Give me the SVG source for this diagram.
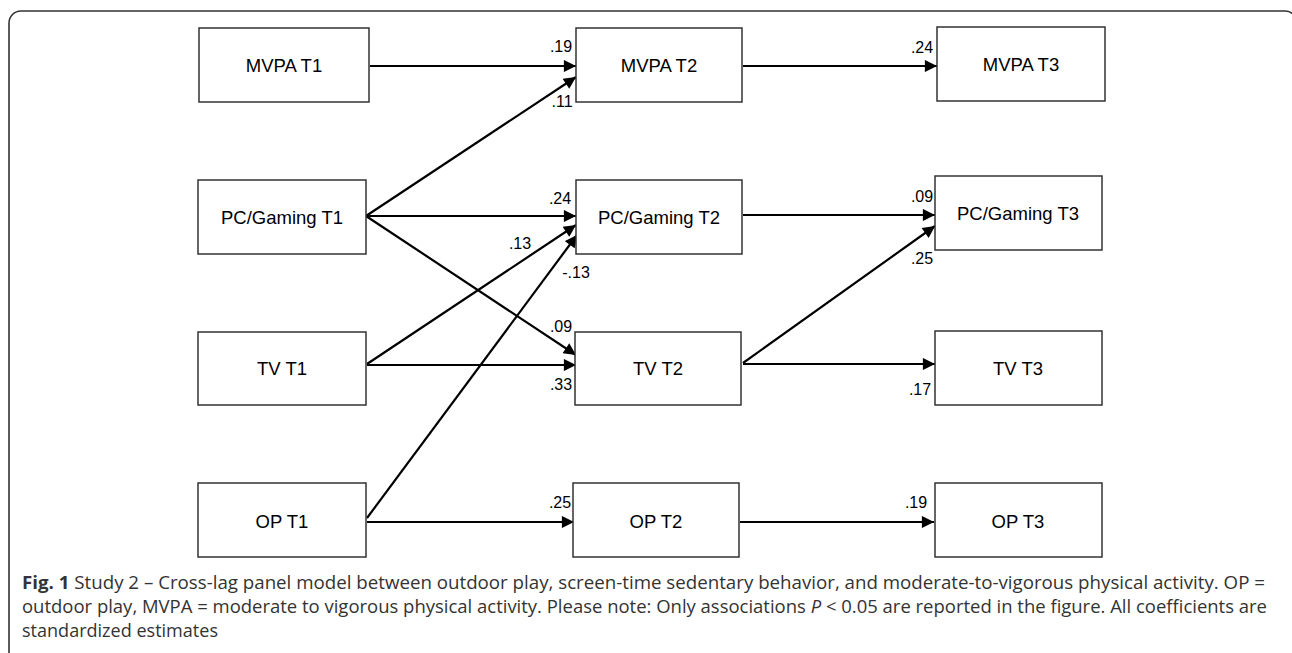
<svg xmlns="http://www.w3.org/2000/svg" width="1292" height="653" viewBox="0 0 1292 653">
<style>
.box{fill:#fff;stroke:#333;stroke-width:1.5}
.lbl{font-family:"Liberation Sans",Arial,sans-serif;font-size:18.5px;fill:#000;text-anchor:middle}
.coef{font-family:"Liberation Sans",Arial,sans-serif;font-size:16px;fill:#000;text-anchor:middle}
.edge{stroke:#000;stroke-width:2.2;fill:none;marker-end:url(#ah)}
.cap{font-family:"Open Sans","Noto Sans",sans-serif;font-size:17.5px;fill:#333}
</style>
<defs>
<marker id="ah" viewBox="0 0 10 10" refX="10" refY="5" markerWidth="6" markerHeight="5.5" orient="auto" markerUnits="strokeWidth">
<path d="M0,0 L10,5 L0,10 Z" fill="#000"/>
</marker>
</defs>
<rect x="9" y="11" width="1288" height="700" rx="12" fill="none" stroke="#333" stroke-width="1.6"/>
<g id="connectors">
<line class="edge" x1="370" y1="66" x2="576" y2="66"/>
<line class="edge" x1="743" y1="66" x2="937" y2="66"/>
<line class="edge" x1="366" y1="216" x2="576" y2="77"/>
<line class="edge" x1="366" y1="216" x2="576" y2="216"/>
<line class="edge" x1="366" y1="216" x2="576" y2="355"/>
<line class="edge" x1="367" y1="364" x2="576" y2="225"/>
<line class="edge" x1="367" y1="365" x2="576" y2="365"/>
<line class="edge" x1="367" y1="518" x2="577" y2="235"/>
<line class="edge" x1="367" y1="522" x2="574" y2="522"/>
<line class="edge" x1="743" y1="215" x2="935" y2="215"/>
<line class="edge" x1="743" y1="363" x2="935" y2="226"/>
<line class="edge" x1="743" y1="364" x2="935" y2="364"/>
<line class="edge" x1="740" y1="522" x2="934" y2="522"/>
</g>
<g id="coefficients">
<text class="coef" x="561" y="52">.19</text>
<text class="coef" x="562" y="107">.11</text>
<text class="coef" x="560" y="204">.24</text>
<text class="coef" x="520" y="249">.13</text>
<text class="coef" x="576" y="278">-.13</text>
<text class="coef" x="561" y="332">.09</text>
<text class="coef" x="561" y="390">.33</text>
<text class="coef" x="560" y="508">.25</text>
<text class="coef" x="922" y="53">.24</text>
<text class="coef" x="922" y="202">.09</text>
<text class="coef" x="922" y="264">.25</text>
<text class="coef" x="920" y="395">.17</text>
<text class="coef" x="916" y="508">.19</text>
</g>
<g id="mvpa_t1"><rect class="box" x="199" y="28" width="170" height="74"/><text class="lbl" x="284" y="72">MVPA T1</text></g>
<g id="mvpa_t2"><rect class="box" x="576" y="28" width="166" height="74"/><text class="lbl" x="659" y="72">MVPA T2</text></g>
<g id="mvpa_t3"><rect class="box" x="937" y="27" width="168" height="74"/><text class="lbl" x="1021" y="71">MVPA T3</text></g>
<g id="pc_t1"><rect class="box" x="198" y="180" width="168" height="74"/><text class="lbl" x="282" y="224">PC/Gaming T1</text></g>
<g id="pc_t2"><rect class="box" x="576" y="180" width="166" height="74"/><text class="lbl" x="659" y="224">PC/Gaming T2</text></g>
<g id="pc_t3"><rect class="box" x="935" y="176" width="167" height="74"/><text class="lbl" x="1018" y="220">PC/Gaming T3</text></g>
<g id="tv_t1"><rect class="box" x="198" y="332" width="168" height="73"/><text class="lbl" x="282" y="375">TV T1</text></g>
<g id="tv_t2"><rect class="box" x="575" y="332" width="166" height="73"/><text class="lbl" x="658" y="375">TV T2</text></g>
<g id="tv_t3"><rect class="box" x="935" y="331" width="167" height="74"/><text class="lbl" x="1018" y="375">TV T3</text></g>
<g id="op_t1"><rect class="box" x="198" y="483" width="168" height="74"/><text class="lbl" x="282" y="528">OP T1</text></g>
<g id="op_t2"><rect class="box" x="573" y="483" width="166" height="74"/><text class="lbl" x="656" y="528">OP T2</text></g>
<g id="op_t3"><rect class="box" x="935" y="483" width="167" height="74"/><text class="lbl" x="1018" y="528">OP T3</text></g>
<g id="caption">
<text class="cap" x="22" y="589" textLength="1243" lengthAdjust="spacingAndGlyphs"><tspan font-weight="bold">Fig. 1</tspan> Study 2 – Cross-lag panel model between outdoor play, screen-time sedentary behavior, and moderate-to-vigorous physical activity. OP =</text>
<text class="cap" x="22" y="613" textLength="1245" lengthAdjust="spacingAndGlyphs">outdoor play, MVPA = moderate to vigorous physical activity. Please note: Only associations <tspan font-style="italic">P</tspan> &lt; 0.05 are reported in the figure. All coefficients are</text>
<text class="cap" x="22" y="637" textLength="196" lengthAdjust="spacingAndGlyphs">standardized estimates</text>
</g>
</svg>
